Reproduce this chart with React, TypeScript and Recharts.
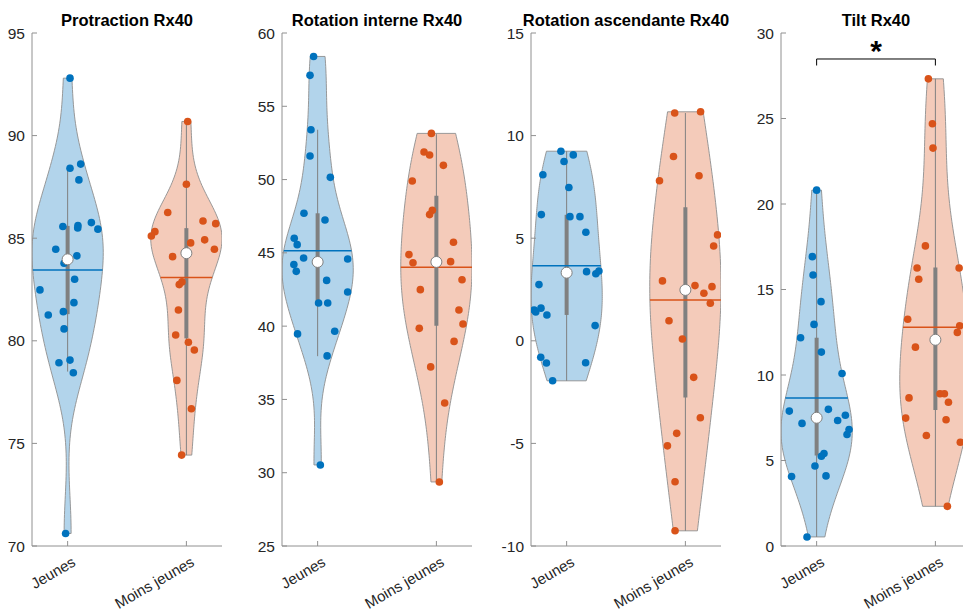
import React from 'react'
import { ComposedChart, Area, Line, Scatter, XAxis, YAxis } from 'recharts'

const FONT = 'Arial, "Liberation Sans", Helvetica, sans-serif'
const TEXT = '#262626'
const AXIS = '#909090'
const GRAY = '#808080'
const colors = ['#0072BD', '#D95319']

const groups = ['Jeunes', 'Moins jeunes']
const titles = ['Protraction Rx40', 'Rotation interne Rx40', 'Rotation ascendante Rx40', 'Tilt Rx40']
const yDomains = [[70, 95], [25, 60], [-10, 15], [0, 30]]
const yTicks = [
  [70, 75, 80, 85, 90, 95],
  [25, 30, 35, 40, 45, 50, 55, 60],
  [-10, -5, 0, 5, 10, 15],
  [0, 5, 10, 15, 20, 25, 30],
]

// Protraction Rx40
const protJeunes = [92.8, 88.41, 88.61, 87.84, 85.57, 85.62, 85.5, 85.76, 85.44, 84.46, 83.78, 84.14, 83.0, 82.48, 81.86, 81.26, 81.42, 80.58, 78.93, 79.06, 78.44, 70.61]
const protJeunesJitter = [0.02, 0.02, 0.11, 0.095, -0.04, 0.087, 0.085, 0.2, 0.255, -0.1, -0.03, 0.078, 0.059, -0.233, 0.053, -0.163, -0.036, -0.03, -0.073, 0.02, 0.048, -0.017]
const protMoins = [90.69, 87.63, 86.25, 85.84, 85.71, 85.32, 85.11, 84.77, 84.92, 84.46, 84.1, 82.74, 82.87, 81.5, 80.28, 79.93, 79.55, 78.07, 76.69, 74.43]
const protMoinsJitter = [0.011, 0, -0.157, 0.14, 0.247, -0.265, -0.295, 0.036, 0.154, 0.236, -0.116, -0.06, -0.037, -0.067, -0.09, 0.017, 0.067, -0.08, 0.042, -0.04]

// Rotation interne Rx40
const rotIntJeunes = [58.4, 57.11, 53.4, 51.61, 50.15, 47.7, 47.24, 46.0, 45.56, 44.65, 44.58, 44.2, 43.74, 43.12, 42.33, 41.58, 41.58, 39.47, 39.65, 37.97, 30.53]
const rotIntJeunesJitter = [-0.034, -0.064, -0.056, -0.064, 0.107, -0.115, 0.062, -0.197, -0.172, -0.118, 0.253, -0.2, -0.18, 0.076, 0.253, 0.008, 0.085, -0.169, 0.144, 0.08, 0.023]
const rotIntMoins = [53.15, 51.88, 51.68, 50.97, 49.9, 47.9, 47.61, 45.72, 44.88, 44.33, 44.4, 43.17, 42.49, 41.1, 40.15, 39.85, 38.96, 37.22, 34.76, 29.37]
const rotIntMoinsJitter = [-0.042, -0.104, -0.057, 0.059, -0.203, -0.034, -0.057, 0.144, -0.231, -0.197, 0.12, 0.216, -0.135, 0.19, 0.224, -0.144, 0.149, -0.048, 0.07, 0.025]

// Rotation ascendante Rx40
const rotAscJeunes = [9.24, 9.06, 8.74, 8.09, 7.47, 6.15, 6.05, 6.05, 5.29, 3.37, 3.27, 3.4, 2.74, 1.5, 1.4, 1.59, 1.26, 0.74, -0.8, -1.08, -1.07, -1.95]
const rotAscJeunesJitter = [-0.048, 0.056, -0.022, -0.2, 0.019, -0.213, 0.028, 0.112, 0.162, 0.168, 0.246, 0.272, -0.233, -0.273, -0.26, -0.216, -0.166, 0.24, -0.218, -0.17, 0.16, -0.118]
const rotAscMoins = [11.1, 11.16, 8.98, 8.04, 7.8, 5.16, 4.62, 2.92, 2.69, 2.64, 2.32, 1.83, 0.98, 0.09, -1.78, -3.75, -4.51, -5.12, -6.87, -9.26]
const rotAscMoinsJitter = [-0.09, 0.128, -0.1, 0.115, -0.218, 0.271, 0.238, -0.193, 0.081, 0.224, 0.156, 0.21, -0.138, -0.025, 0.07, 0.126, -0.073, -0.151, -0.087, -0.087]

// Tilt Rx40
const tiltJeunes = [20.81, 16.92, 15.85, 14.29, 12.96, 12.18, 11.34, 10.09, 7.89, 7.99, 7.17, 7.34, 7.65, 6.81, 6.52, 5.41, 5.25, 4.68, 4.06, 4.1, 0.53]
const tiltJeunesJitter = [0, -0.036, -0.03, 0.037, -0.022, -0.135, 0.04, 0.214, -0.23, 0.099, -0.123, 0.177, 0.242, 0.273, 0.256, 0.062, 0.04, -0.014, -0.211, 0.079, -0.081]
const tiltMoins = [27.32, 24.69, 23.27, 17.55, 16.26, 16.26, 15.6, 13.26, 12.88, 12.49, 11.63, 8.66, 8.9, 8.9, 8.41, 7.48, 7.38, 6.46, 6.07, 2.32]
const tiltMoinsJitter = [-0.059, -0.025, -0.02, -0.084, -0.154, 0.2, -0.14, -0.233, 0.205, 0.185, -0.168, -0.222, 0.039, 0.076, 0.11, -0.25, 0.09, -0.076, 0.21, 0.101]

// summary statistics per panel: [Jeunes, Moins jeunes]
const means = [[83.45, 83.08], [45.15, 44.01], [3.66, 1.99], [8.65, 12.79]]
const medians = [[83.97, 84.27], [44.38, 44.38], [3.32, 2.48], [7.5, 12.06]]
const q1 = [[81.3, 80.12], [41.5, 40.03], [1.26, -2.76], [5.29, 7.95]]
const q3 = [[85.6, 85.49], [47.7, 48.9], [6.14, 6.51], [12.18, 16.28]]
const whiskerLow = [[78.5, 74.43], [37.95, 29.37], [-1.95, -9.26], [0.53, 2.32]]
const whiskerHigh = [[88.4, 90.67], [53.4, 53.1], [9.24, 11.1], [20.81, 27.32]]

// significance bracket on Tilt
const bracketY = [28.1, 28.48]
const starY = 28.48

const panelValues = [
  [[protJeunes, protJeunesJitter], [protMoins, protMoinsJitter]],
  [[rotIntJeunes, rotIntJeunesJitter], [rotIntMoins, rotIntMoinsJitter]],
  [[rotAscJeunes, rotAscJeunesJitter], [rotAscMoins, rotAscMoinsJitter]],
  [[tiltJeunes, tiltJeunesJitter], [tiltMoins, tiltMoinsJitter]],
]

const plotLefts = [32, 282, 531, 781]
const violinWidth = 0.3

function median(a: number[]) {
  const s = [...a].sort((p, q) => p - q)
  const m = Math.floor(s.length / 2)
  return s.length % 2 ? s[m] : (s[m - 1] + s[m]) / 2
}

// kernel density like ksdensity defaults
function buildKde(values: number[]) {
  const n = values.length
  const med = median(values)
  let sig = median(values.map((v) => Math.abs(v - med))) / 0.6745
  if (sig <= 0) sig = Math.max(...values) - Math.min(...values)
  const bw = sig * Math.pow(4 / (3 * n), 0.2)
  return (t: number) =>
    values.reduce((s, v) => s + Math.exp(-0.5 * ((t - v) / bw) ** 2), 0) / (n * bw * Math.sqrt(2 * Math.PI))
}

function buildViolin(values: number[], center: number) {
  const f = buildKde(values)
  const lo = Math.min(...values)
  const hi = Math.max(...values)
  const steps = 120
  const raw = Array.from({ length: steps + 1 }, (_, i) => {
    const v = lo + ((hi - lo) * i) / steps
    return { v, d: f(v) }
  })
  const dMax = Math.max(...raw.map((r) => r.d))
  const half = (d: number) => (violinWidth * d) / dMax
  return {
    shape: raw.map((r) => ({ v: r.v, range: [center - half(r.d), center + half(r.d)] })),
    halfAt: (v: number) => half(f(v)),
    lo,
    hi,
    loHalf: half(raw[0].d),
    hiHalf: half(raw[steps].d),
  }
}

function GroupTick({ x, y, payload }: any) {
  const ax = x + 9
  const ay = y + 19
  return (
    <text x={ax} y={ay} transform={`rotate(-30 ${ax} ${ay})`} textAnchor="end" fill={TEXT} fontSize={15} fontFamily={FONT}>
      {groups[Math.round(payload.value) - 1]}
    </text>
  )
}

const NoTick = () => <g />

function Panel({ index }: { index: number }) {
  const series = panelValues[index].map(([values, jitter], g) => {
    const c = g + 1
    const vio = buildViolin(values, c)
    const mw = vio.halfAt(means[index][g])
    return {
      color: colors[g],
      violin: vio.shape,
      capLow: [{ x: c - vio.loHalf, v: vio.lo }, { x: c + vio.loHalf, v: vio.lo }],
      capHigh: [{ x: c - vio.hiHalf, v: vio.hi }, { x: c + vio.hiHalf, v: vio.hi }],
      points: values.map((v, k) => ({ x: c + jitter[k], v })),
      whisker: [{ x: c, v: whiskerLow[index][g] }, { x: c, v: whiskerHigh[index][g] }],
      box: [{ x: c, v: q1[index][g] }, { x: c, v: q3[index][g] }],
      mean: [{ x: c - mw, v: means[index][g] }, { x: c + mw, v: means[index][g] }],
      median: [{ x: c, v: medians[index][g] }],
    }
  })

  const showBracket = index === 3

  return (
    <div style={{ position: 'absolute', left: plotLefts[index] - 40, top: 0, width: 240, height: 612 }}>
      <ComposedChart width={240} height={612} layout="vertical" margin={{ top: 33, right: 10, bottom: 0, left: 0 }}>
        <XAxis
          type="number"
          dataKey="x"
          domain={[0.7, 2.3]}
          ticks={[1, 2]}
          allowDataOverflow
          interval={0}
          height={66}
          tickSize={-5}
          tickMargin={5}
          stroke={AXIS}
          tick={GroupTick}
        />
        <XAxis
          xAxisId="top"
          orientation="top"
          type="number"
          domain={[0.7, 2.3]}
          ticks={[1, 2]}
          allowDataOverflow
          height={0}
          tickSize={-5}
          stroke={AXIS}
          tick={NoTick}
        />
        <YAxis
          type="number"
          dataKey="v"
          reversed
          domain={yDomains[index]}
          ticks={yTicks[index]}
          allowDataOverflow
          interval={0}
          width={40}
          tickSize={-5}
          tickMargin={12}
          stroke={AXIS}
          tick={{ fill: TEXT, fontSize: 15.5, fontFamily: FONT }}
        />
        <YAxis
          yAxisId="right"
          orientation="right"
          type="number"
          reversed
          domain={yDomains[index]}
          ticks={yTicks[index]}
          allowDataOverflow
          width={0}
          tickSize={-5}
          stroke={AXIS}
          tick={NoTick}
        />
        {series.map((s, g) => (
          <Area
            key={`violin${g}`}
            data={s.violin}
            dataKey="range"
            type="linear"
            fill={s.color}
            fillOpacity={0.3}
            stroke="#8f8f8f"
            strokeWidth={0.9}
            isAnimationActive={false}
            activeDot={false}
          />
        ))}
        {series.flatMap((s, g) => [
          <Line key={`capl${g}`} data={s.capLow} dataKey="x" stroke="#8f8f8f" strokeWidth={0.9} dot={false} activeDot={false} isAnimationActive={false} />,
          <Line key={`caph${g}`} data={s.capHigh} dataKey="x" stroke="#8f8f8f" strokeWidth={0.9} dot={false} activeDot={false} isAnimationActive={false} />,
        ])}
        {series.map((s, g) => (
          <Scatter
            key={`pts${g}`}
            data={s.points}
            isAnimationActive={false}
            shape={(p: any) => <circle cx={p.cx} cy={p.cy} r={3.8} fill={s.color} />}
          />
        ))}
        {series.flatMap((s, g) => [
          <Line key={`wh${g}`} data={s.whisker} dataKey="x" stroke={GRAY} strokeWidth={1} dot={false} activeDot={false} isAnimationActive={false} />,
          <Line key={`bx${g}`} data={s.box} dataKey="x" stroke={GRAY} strokeWidth={4} dot={false} activeDot={false} isAnimationActive={false} />,
          <Line key={`mn${g}`} data={s.mean} dataKey="x" stroke={s.color} strokeWidth={1.5} dot={false} activeDot={false} isAnimationActive={false} />,
        ])}
        {series.map((s, g) => (
          <Scatter
            key={`med${g}`}
            data={s.median}
            isAnimationActive={false}
            shape={(p: any) => <circle cx={p.cx} cy={p.cy} r={5.5} fill="#ffffff" stroke={GRAY} strokeWidth={1} />}
          />
        ))}
        {showBracket && (
          <Line
            data={[
              { x: 1, v: bracketY[0] },
              { x: 1, v: bracketY[1] },
              { x: 2, v: bracketY[1] },
              { x: 2, v: bracketY[0] },
            ]}
            dataKey="x"
            stroke="#000000"
            strokeWidth={1}
            dot={false}
            activeDot={false}
            isAnimationActive={false}
          />
        )}
        {showBracket && (
          <Scatter
            data={[{ x: 1.5, v: starY }]}
            isAnimationActive={false}
            shape={(p: any) => (
              <text x={p.cx} y={p.cy + 2} textAnchor="middle" fontSize={30} fontWeight="bold" fontFamily={FONT} fill="#000">
                *
              </text>
            )}
          />
        )}
      </ComposedChart>
      <div
        style={{
          position: 'absolute',
          left: 40,
          top: 12,
          width: 190,
          display: 'flex',
          justifyContent: 'center',
          whiteSpace: 'nowrap',
          fontFamily: FONT,
          fontWeight: 'bold',
          fontSize: 16.5,
          lineHeight: '16.5px',
          color: '#000',
        }}
      >
        {titles[index]}
      </div>
    </div>
  )
}

export default function App() {
  return (
    <div style={{ position: 'absolute', left: 0, top: 0, width: 963, height: 612, overflow: 'hidden', background: '#fff' }}>
      {titles.map((t, i) => (
        <Panel key={t} index={i} />
      ))}
    </div>
  )
}
